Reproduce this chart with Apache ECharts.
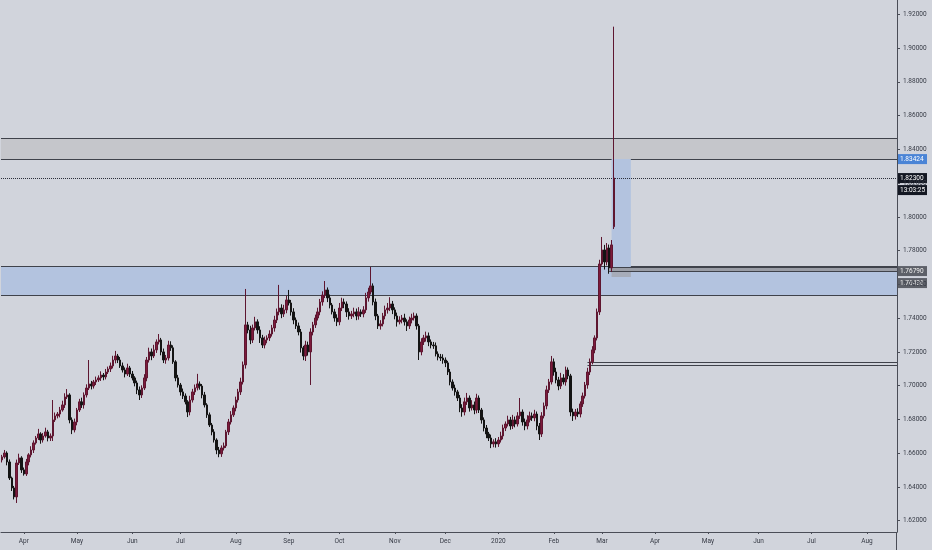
<!DOCTYPE html>
<html><head><meta charset="utf-8">
<script src="https://cdn.jsdelivr.net/npm/echarts@6/dist/echarts.min.js"></script>
<style>html,body{margin:0;padding:0;background:#d1d4dc}#c{width:932px;height:550px}</style>
</head><body><div id="c"></div>
<script>
// ---- data ----
const startDate = '2019-03-19';
const categoryCount = 372;
const firstOpen = 1.6560;
const gapOpens = {254: 1.7942};
const closes = [
1.6578,1.6601,1.6548,1.6453,1.6394,1.6341,1.6542,1.6572,1.6501,1.6477,
1.6548,1.6590,1.6619,1.6661,1.6690,1.6714,1.6678,1.6702,1.6726,1.6690,
1.6702,1.6797,1.6821,1.6832,1.6856,1.6886,1.6933,1.6945,1.6797,1.6738,
1.6785,1.6856,1.6904,1.6886,1.6945,1.6986,1.7010,1.6998,1.7022,1.7034,
1.7046,1.7063,1.7052,1.7081,1.7099,1.7117,1.7152,1.7176,1.7152,1.7117,
1.7093,1.7069,1.7105,1.7069,1.7046,1.7016,1.6975,1.6945,1.6986,1.7046,
1.7152,1.7200,1.7176,1.7212,1.7259,1.7271,1.7200,1.7152,1.7164,1.7241,
1.7224,1.7141,1.7046,1.7004,1.6963,1.6939,1.6904,1.6844,1.6915,1.6963,
1.6987,1.7010,1.6998,1.6945,1.6886,1.6827,1.6767,1.6726,1.6678,1.6619,
1.6596,1.6631,1.6643,1.6726,1.6785,1.6827,1.6868,1.6915,1.6963,1.7022,
1.7123,1.7360,1.7330,1.7271,1.7342,1.7378,1.7330,1.7283,1.7241,1.7271,
1.7283,1.7306,1.7342,1.7389,1.7437,1.7460,1.7425,1.7449,1.7508,1.7490,
1.7437,1.7389,1.7354,1.7318,1.7224,1.7176,1.7241,1.7200,1.7318,1.7360,
1.7401,1.7437,1.7496,1.7537,1.7567,1.7520,1.7478,1.7437,1.7401,1.7378,
1.7460,1.7496,1.7484,1.7437,1.7413,1.7425,1.7437,1.7413,1.7437,1.7425,
1.7449,1.7520,1.7555,1.7591,1.7496,1.7413,1.7354,1.7366,1.7413,1.7449,
1.7460,1.7484,1.7449,1.7413,1.7378,1.7389,1.7401,1.7378,1.7354,1.7389,
1.7401,1.7413,1.7354,1.7200,1.7259,1.7283,1.7295,1.7259,1.7241,1.7236,
1.7188,1.7170,1.7164,1.7152,1.7135,1.7081,1.7022,1.6986,1.6963,1.6927,
1.6868,1.6844,1.6904,1.6927,1.6868,1.6886,1.6856,1.6927,1.6856,1.6797,
1.6749,1.6714,1.6690,1.6655,1.6667,1.6655,1.6678,1.6702,1.6749,1.6773,
1.6797,1.6761,1.6797,1.6773,1.6821,1.6844,1.6785,1.6761,1.6797,1.6821,
1.6809,1.6832,1.6761,1.6714,1.6821,1.6880,1.6975,1.7022,1.7141,1.7081,
1.7034,1.6998,1.7046,1.7022,1.7093,1.7058,1.6844,1.6821,1.6844,1.6832,
1.6892,1.6939,1.7004,1.7081,1.7141,1.7212,1.7283,1.7437,1.7721,1.7804,
1.7733,1.7816,1.7698,1.7834,1.8230
];
// wick lengths in pips (0.0001)
const upWick = [
12,18,10,15,8,12,20,25,10,14,
18,10,22,15,12,30,10,18,25,12,
15,118,20,12,18,25,22,35,10,15,
20,12,18,25,15,22,142,18,12,20,
15,22,12,18,14,20,25,30,12,18,
20,15,25,12,18,10,14,20,16,22,
18,25,20,30,15,35,12,20,18,25,
22,15,10,18,12,20,15,10,25,18,
20,60,15,12,18,10,14,12,16,10,
18,15,20,12,18,22,15,20,18,25,
20,213,18,25,20,30,15,22,18,20,
15,22,18,25,20,137,22,30,25,59,
18,22,15,20,18,12,25,20,22,18,
20,25,18,22,53,15,20,12,18,22,
30,25,20,15,22,18,25,20,28,15,
22,30,25,112,15,20,12,22,18,25,
30,40,18,15,20,22,18,25,15,20,
25,20,15,12,22,18,25,20,15,18,
20,15,18,22,15,12,18,15,20,12,
18,22,25,30,15,28,20,25,15,12,
15,18,12,20,15,22,18,25,20,15,
25,18,30,20,22,83,15,20,28,25,
20,25,15,18,22,20,25,18,35,20,
25,18,30,22,20,15,12,20,18,22,
15,20,18,25,20,22,15,20,25,77,
30,29,20,29,897
];
const downWick = [
15,10,20,12,18,15,36,12,18,10,
12,20,15,18,10,12,22,15,10,20,
18,30,12,15,20,10,18,12,20,25,
15,20,12,18,22,15,12,20,15,18,
12,18,20,15,12,18,15,20,18,12,
15,20,12,18,15,20,25,30,18,12,
20,15,25,12,18,15,20,18,22,15,
18,12,20,15,22,18,15,30,20,15,
18,15,22,20,15,18,12,20,15,25,
20,18,15,12,18,15,12,20,15,18,
15,22,20,25,18,15,22,30,18,20,
20,18,15,22,18,20,25,18,20,15,
22,25,18,20,28,25,30,22,196,20,
18,15,20,22,18,25,20,15,22,25,
20,18,25,30,22,18,20,25,22,18,
20,18,22,15,20,25,18,22,15,20,
22,18,25,20,28,15,20,22,30,18,
20,15,22,48,20,18,22,25,20,18,
15,20,18,22,25,18,20,15,22,18,
25,28,20,18,22,15,25,20,18,22,
20,25,18,25,20,22,18,15,20,18,
15,22,18,20,15,18,22,25,20,15,
18,20,25,36,18,15,20,18,15,22,
20,25,18,15,22,20,25,30,22,18,
20,18,15,22,18,15,20,15,18,10,
45,20,35,25,14
];
const yTicks = [1.62,1.64,1.66,1.68,1.70,1.72,1.74,1.76,1.78,1.80,1.82,1.84,1.86,1.88,1.90,1.92];
const monthNames = ['Jan','Feb','Mar','Apr','May','Jun','Jul','Aug','Sep','Oct','Nov','Dec'];
const greyZone = [1.84672, 1.83424];
const blueZone = [1.77107, 1.75353];
const rayBand = [1.7703, 1.7679];
const supportBand = [1.71384, 1.71242];
const positionTool = {target: 1.83424, entry: 1.76790, stop: 1.76436};
const lastPrice = 1.82300;
const countdown = '13:03:25';

// ---- categories (weekdays) ----
const cats = [];
const monthStart = new Set();
{
  let d = new Date(startDate + 'T00:00:00Z');
  let lastMonth = -1;
  while (cats.length < categoryCount) {
    const wd = d.getUTCDay();
    if (wd !== 0 && wd !== 6) {
      const m = d.getUTCMonth();
      if (m !== lastMonth) { if (lastMonth !== -1 || d.getUTCDate() <= 3) monthStart.add(cats.length); lastMonth = m; }
      cats.push(d.toISOString().slice(0, 10));
    }
    d = new Date(d.getTime() + 86400000);
  }
}
const N = cats.length;
const candles = closes.map((c, i) => {
  const o = i === 0 ? firstOpen : (gapOpens[i] !== undefined ? gapOpens[i] : closes[i - 1]);
  const hi = Math.max(o, c) + upWick[i] / 10000;
  const lo = Math.min(o, c) - downWick[i] / 10000;
  return [o, c, lo, hi];
});

const chart = echarts.init(document.getElementById('c'));
const AX = '#4a4d57', TX = '#363a45', FONT = 'Roboto';

function rectSeries(name, data, fill, stroke, z) {
  return {
    type: 'custom', name, z, silent: true, clip: true, data,
    renderItem(params, api) {
      const cs = params.coordSys;
      const i0 = api.value(0), i1 = api.value(1);
      const x0 = i0 <= 0 ? cs.x : api.coord([i0, api.value(2)])[0];
      const x1 = i1 >= N - 1 ? cs.x + cs.width : api.coord([i1, api.value(2)])[0];
      const y0 = Math.round(api.coord([0, api.value(2)])[1]);
      const y1 = Math.round(api.coord([0, api.value(3)])[1]);
      const ch = [{type: 'rect', shape: {x: x0, y: y0, width: x1 - x0, height: y1 - y0}, style: {fill: fill || 'none'}}];
      if (stroke) {
        ch.push({type: 'line', shape: {x1: x0, y1: y0 + 0.5, x2: x1, y2: y0 + 0.5}, style: {stroke, lineWidth: 1}});
        ch.push({type: 'line', shape: {x1: x0, y1: y1 + 0.5, x2: x1, y2: y1 + 0.5}, style: {stroke, lineWidth: 1}});
      }
      return {type: 'group', children: ch};
    }
  };
}
function dottedSeries(name, value, z) {
  return {
    type: 'custom', name, z, silent: true, clip: true, data: [[0, value]],
    renderItem(params, api) {
      const cs = params.coordSys;
      const y = Math.round(api.coord([0, api.value(1)])[1]) + 0.5;
      return {type: 'line', shape: {x1: cs.x, y1: y, x2: cs.x + cs.width, y2: y},
        style: {stroke: '#2a2e39', lineWidth: 1, lineDash: [1, 1]}};
    }
  };
}

const showMonth = (idx) => monthStart.has(idx);

chart.setOption({
  backgroundColor: '#d1d4dc',
  animation: false,
  grid: {left: 1, right: 35, top: 0, bottom: 18},
  xAxis: {
    type: 'category', data: cats, boundaryGap: true,
    axisLine: {show: true, lineStyle: {color: AX, width: 1}},
    axisTick: {show: true, alignWithLabel: true, length: 2, interval: showMonth, lineStyle: {color: AX}},
    axisLabel: {
      interval: showMonth, margin: 6, fontSize: 6.5, color: TX, fontFamily: FONT,
      formatter: (v) => { const m = +v.slice(5, 7) - 1; return m === 0 ? v.slice(0, 4) : monthNames[m]; }
    },
    splitLine: {show: false}
  },
  yAxis: {
    type: 'value', position: 'right', min: 1.6133, max: 1.9285, scale: true,
    splitLine: {show: false},
    axisLine: {show: true, lineStyle: {color: AX, width: 1}},
    axisTick: {show: true, length: 3, customValues: yTicks, lineStyle: {color: AX}},
    axisLabel: {customValues: yTicks, formatter: (v) => v.toFixed(5), fontSize: 6.5, color: TX, margin: 6, fontFamily: FONT}
  },
  series: [
    rectSeries('greyZone', [[0, N - 1, greyZone[0], greyZone[1]]], '#c5c6cb', '#3f424b', 1),
    rectSeries('blueZone', [[0, N - 1, blueZone[0], blueZone[1]]], '#b3c3df', '#3f424b', 1),
    rectSeries('profit', [[253, 261, positionTool.target, positionTool.entry]], '#b3c3df', null, 2),
    rectSeries('stop', [[253, 261, positionTool.entry, positionTool.stop]], '#a7acb9', null, 2),
    rectSeries('ray', [[252, N - 1, rayBand[0], rayBand[1]]], '#9a9da6', '#3f424b', 3),
    rectSeries('support', [[243, N - 1, supportBand[0], supportBand[1]]], null, '#3f424b', 3),
    dottedSeries('lastPrice', lastPrice, 4),
    {
      type: 'candlestick', z: 5, data: candles, barWidth: 2,
      itemStyle: {color: '#7d1a3c', color0: '#141414', borderColor: '#5e1630', borderColor0: '#141414', borderWidth: 1}
    }
  ]
});

// ---- price tags on the right scale ----
const yPix = (v) => chart.convertToPixel({yAxisIndex: 0}, v);
function tag(y, fill, textFill, text) {
  return {type: 'group', children: [
    {type: 'rect', shape: {x: 897, y: y - 5, width: 30, height: 10}, style: {fill}},
    {type: 'text', style: {text, x: 900, y: y, fill: textFill, font: '6.5px Roboto', verticalAlign: 'middle'}}
  ]};
}
const yT = yPix(positionTool.target), yL = yPix(lastPrice), yE = yPix(positionTool.entry), yS = yPix(positionTool.stop);
chart.setOption({graphic: [
  tag(yT, '#4a84d6', '#ffffff', positionTool.target.toFixed(5)),
  tag(yL, '#131722', '#ffffff', lastPrice.toFixed(5)),
  tag(yL + 12, '#131722', '#ffffff', countdown),
  tag(yE, '#5d6068', '#f0f0f0', positionTool.entry.toFixed(5)),
  tag(Math.max(yS, yE + 12), '#5d6068', '#f0f0f0', positionTool.stop.toFixed(5)),
  {type: 'line', shape: {x1: 896.5, y1: 532, x2: 896.5, y2: 550}, style: {stroke: AX, lineWidth: 1}}
]});
</script></body></html>
